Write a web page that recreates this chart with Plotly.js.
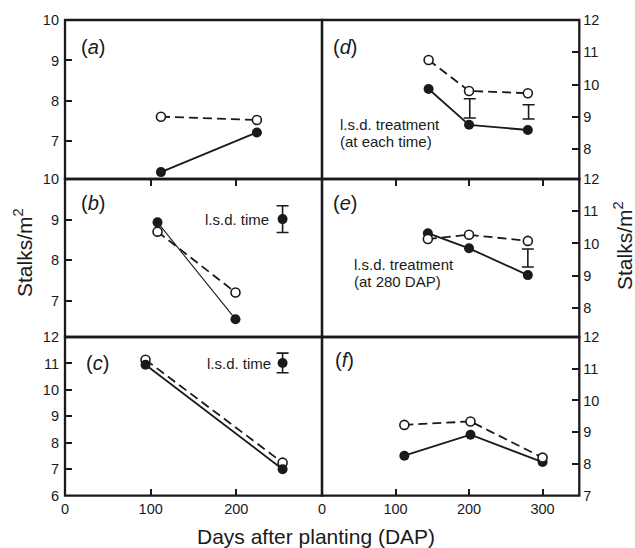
<!DOCTYPE html>
<html>
<head>
<meta charset="utf-8">
<script src="https://cdn.plot.ly/plotly-3.0.1.min.js"></script>
<style>html,body{margin:0;padding:0;background:#fff;}#chart{width:635px;height:548px;}</style>
</head>
<body>
<div id="chart"></div>
<script>
// ---- data (days after planting, stalks per m2) ----
const aDap = [112, 224];
const aOpen = [7.61, 7.53];
const aFilled = [6.24, 7.22];

const bDap = [108, 199];
const bOpen = [8.70, 7.20];
const bFilled = [8.93, 6.54];
const bLsdX = [254], bLsdY = [9.01], bLsdErr = [0.33];

const cDap = [94, 254];
const cOpen = [11.14, 7.25];
const cFilled = [10.95, 7.00];
const cLsdX = [254], cLsdY = [11.02], cLsdErr = [0.37];

const dDap = [145, 200, 280];
const dOpen = [10.76, 9.80, 9.73];
const dFilled = [9.86, 8.75, 8.59];
const dLsdX = [201, 281], dLsdY = [9.26, 9.15], dLsdErr = [0.30, 0.22];

const eDap = [144, 200, 280];
const eOpen = [10.14, 10.27, 10.08];
const eFilled = [10.32, 9.85, 9.02];
const eLsdX = [280], eLsdY = [9.55], eLsdErr = [0.28];

const fDap = [112, 202, 300];
const fOpen = [9.23, 9.34, 8.20];
const fFilled = [8.26, 8.92, 8.06];

const W = 635, H = 548;
const px = v => v / W;
const py = v => 1 - v / H;
const FONT = 'Liberation Sans, Arial, Helvetica, sans-serif';
const INK = '#1a1a1a';

function openTr(x, y, xa, ya) {
  return {x, y, xaxis: xa, yaxis: ya, type: 'scatter', mode: 'lines+markers', showlegend: false,
    line: {color: INK, width: 1.8, dash: '9px,5px'},
    marker: {symbol: 'circle', size: 9, color: '#fff', line: {color: INK, width: 1.6}}};
}
function filledTr(x, y, xa, ya, w) {
  return {x, y, xaxis: xa, yaxis: ya, type: 'scatter', mode: 'lines+markers', showlegend: false,
    line: {color: INK, width: w || 1.8},
    marker: {symbol: 'circle', size: 10, color: INK}};
}
function lsdTr(x, y, e, xa, ya, withMarker) {
  return {x, y, xaxis: xa, yaxis: ya, type: 'scatter', mode: 'markers', showlegend: false,
    marker: withMarker ? {symbol: 'circle', size: 10, color: INK} : {size: 1, color: 'rgba(0,0,0,0)'},
    error_y: {type: 'data', array: e, visible: true, color: INK, thickness: 1.6, width: 6}};
}

const data = [
  openTr(aDap, aOpen, 'x', 'y'), filledTr(aDap, aFilled, 'x', 'y'),
  openTr(bDap, bOpen, 'x2', 'y2'), filledTr(bDap, bFilled, 'x2', 'y2', 1.1), lsdTr(bLsdX, bLsdY, bLsdErr, 'x2', 'y2', true),
  openTr(cDap, cOpen, 'x3', 'y3'), filledTr(cDap, cFilled, 'x3', 'y3'), lsdTr(cLsdX, cLsdY, cLsdErr, 'x3', 'y3', true),
  filledTr(dDap, dFilled, 'x4', 'y4'), openTr(dDap, dOpen, 'x4', 'y4'), lsdTr(dLsdX, dLsdY, dLsdErr, 'x4', 'y4', false),
  filledTr(eDap, eFilled, 'x5', 'y5'), openTr(eDap, eOpen, 'x5', 'y5'), lsdTr(eLsdX, eLsdY, eLsdErr, 'x5', 'y5', false),
  filledTr(fDap, fFilled, 'x6', 'y6'), openTr(fDap, fOpen, 'x6', 'y6')
];

const leftDom = [px(65), px(322)];
const rightDom = [px(322), px(579.3)];
const rowDom = [[py(179), py(20)], [py(337), py(179)], [py(495.7), py(337)]];

const tf = {family: FONT, size: 14.5, color: INK};
function xax(dom, anchor, range, opts) {
  return Object.assign({domain: dom, anchor, range, showline: false,
    showgrid: false, zeroline: false, ticks: '', showticklabels: false, tickfont: tf,
    ticklen: 7, tickwidth: 2, tickcolor: INK, fixedrange: true}, opts || {});
}
function yax(dom, anchor, range, tickvals, side) {
  return {domain: dom, anchor, range, side, showline: false,
    showgrid: false, zeroline: false, ticks: 'inside', ticklen: 7, tickwidth: 2, tickcolor: INK,
    tickvals, ticktext: tickvals.map(String), tickfont: tf, ticklabelstandoff: side === 'left' ? 5 : 3, fixedrange: true};
}

const layout = {
  width: W, height: H, margin: {l: 0, r: 0, t: 0, b: 0},
  paper_bgcolor: '#fff', plot_bgcolor: 'rgba(0,0,0,0)',
  font: {family: FONT, color: INK},
  xaxis: xax(leftDom, 'y', [0, 300]),
  xaxis2: xax(leftDom, 'y2', [0, 300], {side: 'top', ticks: 'inside', tickvals: [100, 200]}),
  xaxis3: xax(leftDom, 'y3', [0, 300], {ticks: 'inside', tickvals: [0, 100, 200], showticklabels: true, ticklabelstandoff: 3}),
  xaxis4: xax(rightDom, 'y4', [0, 350]),
  xaxis5: xax(rightDom, 'y5', [0, 350], {side: 'top', ticks: 'inside', tickvals: [100, 200, 300]}),
  xaxis6: xax(rightDom, 'y6', [0, 350], {ticks: 'inside', tickvals: [0, 100, 200, 300], showticklabels: true, ticklabelstandoff: 3}),
  yaxis: yax(rowDom[0], 'x', [6.07, 10], [7, 8, 9, 10], 'left'),
  yaxis2: yax(rowDom[1], 'x2', [6.1, 10], [7, 8, 9, 10], 'left'),
  yaxis3: yax(rowDom[2], 'x3', [6, 12], [6, 7, 8, 9, 10, 11, 12], 'left'),
  yaxis4: yax(rowDom[0], 'x4', [7.07, 12], [8, 9, 10, 11, 12], 'right'),
  yaxis5: yax(rowDom[1], 'x5', [7.1, 12], [8, 9, 10, 11, 12], 'right'),
  yaxis6: yax(rowDom[2], 'x6', [7, 12], [7, 8, 9, 10, 11, 12], 'right'),
  shapes: [],
  annotations: []
};

// panel frames drawn centred on the domain edges so shared borders stay single-width
['', '2', '3', '4', '5', '6'].forEach(s => {
  layout.shapes.push({type: 'rect', xref: 'x' + s + ' domain', yref: 'y' + s + ' domain',
    x0: 0, x1: 1, y0: 0, y1: 1, line: {color: INK, width: 2.3}, fillcolor: 'rgba(0,0,0,0)', layer: 'above'});
});

const A = layout.annotations;
function note(text, x, y, xanchor, size, extra) {
  A.push(Object.assign({text, xref: 'paper', yref: 'paper', x: px(x), y: py(y), xanchor, yanchor: 'middle',
    showarrow: false, font: {family: FONT, size, color: INK}}, extra || {}));
}
note('(<i>a</i>)', 79, 47, 'left', 20);
note('(<i>b</i>)', 79, 203, 'left', 20);
note('(<i>c</i>)', 84, 363, 'left', 20);
note('(<i>d</i>)', 331, 47, 'left', 20);
note('(<i>e</i>)', 331, 203, 'left', 20);
note('(<i>f</i>)', 333, 360, 'left', 20);
note('l.s.d. time', 271, 219, 'right', 15);
note('l.s.d. time', 273, 363, 'right', 15);
note('l.s.d. treatment', 338, 124, 'left', 15);
note('(at each time)', 338, 141, 'left', 15);
note('l.s.d. treatment', 352, 265, 'left', 15);
note('(at 280 DAP)', 352, 281, 'left', 15);
note('Stalks/m<sup>2</sup>', 23, 253, 'center', 21, {textangle: -90});
note('Stalks/m<sup>2</sup>', 623, 246, 'center', 21, {textangle: -90});
note('Days after planting (DAP)', 316, 536, 'center', 21);

Plotly.newPlot('chart', data, layout, {displayModeBar: false, staticPlot: true});
</script>
</body>
</html>
